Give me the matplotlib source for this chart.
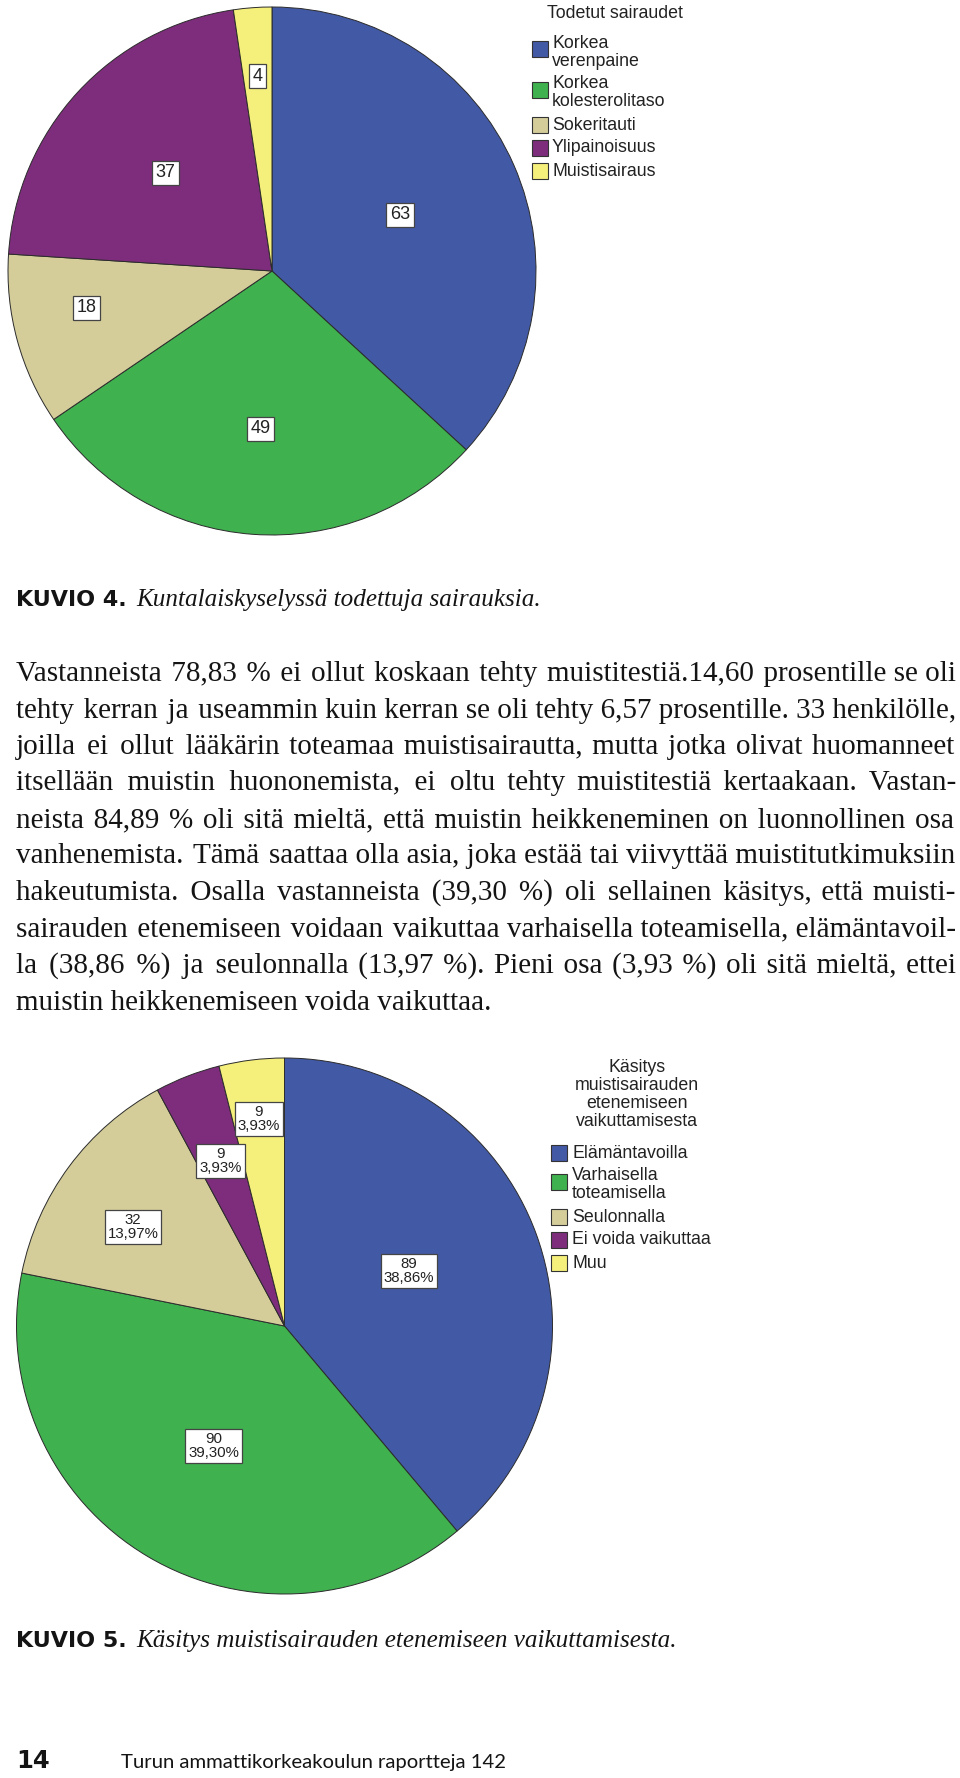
import matplotlib
matplotlib.use('Agg')
import matplotlib.pyplot as plt
from matplotlib.patches import Rectangle
import numpy as np

W, H = 960, 1778
DPI = 100

# ---------------- data ----------------
top_title = "Todetut sairaudet"
top_categories = ["Korkea\nverenpaine", "Korkea\nkolesterolitaso", "Sokeritauti",
                  "Ylipainoisuus", "Muistisairaus"]
top_values = [63, 49, 18, 37, 4]

bottom_title = "Käsitys\nmuistisairauden\netenemiseen\nvaikuttamisesta"
bottom_categories = ["Elämäntavoilla", "Varhaisella\ntoteamisella", "Seulonnalla",
                     "Ei voida vaikuttaa", "Muu"]
bottom_values = [89, 90, 32, 9, 9]

caption1_bold = "KUVIO 4."
caption1_italic = "Kuntalaiskyselyssä todettuja sairauksia."
caption2_bold = "KUVIO 5."
caption2_italic = "Käsitys muistisairauden etenemiseen vaikuttamisesta."
footer_num = "14"
footer_text = "Turun ammattikorkeakoulun raportteja 142"

body_lines = [
    "Vastanneista 78,83 % ei ollut koskaan tehty muistitestiä.14,60 prosentille se oli",
    "tehty kerran ja useammin kuin kerran se oli tehty 6,57 prosentille. 33 henkilölle,",
    "joilla ei ollut lääkärin toteamaa muistisairautta, mutta jotka olivat huomanneet",
    "itsellään muistin huononemista, ei oltu tehty muistitestiä kertaakaan. Vastan-",
    "neista 84,89 % oli sitä mieltä, että muistin heikkeneminen on luonnollinen osa",
    "vanhenemista. Tämä saattaa olla asia, joka estää tai viivyttää muistitutkimuksiin",
    "hakeutumista. Osalla vastanneista (39,30 %) oli sellainen käsitys, että muisti-",
    "sairauden etenemiseen voidaan vaikuttaa varhaisella toteamisella, elämäntavoil-",
    "la (38,86 %) ja seulonnalla (13,97 %). Pieni osa (3,93 %) oli sitä mieltä, ettei",
    "muistin heikkenemiseen voida vaikuttaa.",
]

# ---------------- style ----------------
colors = ['#4259A5', '#3FB14F', '#D4CD9A', '#7D2D7B', '#F5EF7B']
EDGE = '#2b2b2b'
SANS = 'Liberation Sans'
SERIF = 'Liberation Serif'
INK = '#141414'

# label placement: (radius fraction, angle offset in degrees from wedge middle)
top_label_place = [(0.53, 0), (0.6, 0), (0.716, -4), (0.55, 0), (0.74, 0)]
bottom_label_place = [(0.507, 3.7), (0.52, 0), (0.675, 3.4), (0.66, 0), (0.78, 0)]

fig = plt.figure(figsize=(W / DPI, H / DPI), dpi=DPI)
fig.patch.set_facecolor('white')
renderer = fig.canvas.get_renderer()


def fx(x):
    return x / W


def fy(y):
    return 1 - y / H


def measure(s, **kw):
    t = fig.text(0, 0, s, **kw)
    w = t.get_window_extent(renderer).width
    t.remove()
    return w


def draw_pie(cx, cy, r, values, labels, places, fsize, pad_box):
    pad = 1.02
    ax = fig.add_axes([fx(cx - r * pad), fy(cy + r * pad), 2 * r * pad / W, 2 * r * pad / H])
    wedges, _ = ax.pie(values, colors=colors, startangle=90, counterclock=False,
                       radius=1, wedgeprops=dict(edgecolor=EDGE, linewidth=0.7))
    ax.set_xlim(-pad, pad)
    ax.set_ylim(-pad, pad)
    ax.set_aspect('equal')
    ax.axis('off')
    for w, lab, (d, off) in zip(wedges, labels, places):
        th = np.deg2rad((w.theta1 + w.theta2) / 2 + off)
        ax.text(d * np.cos(th), d * np.sin(th), lab, ha='center', va='center',
                fontsize=fsize, family=SANS, color='#222222', linespacing=1.0,
                multialignment='center',
                bbox=dict(boxstyle=f'square,pad={pad_box}', fc='white', ec='#444444', lw=0.9))
    return ax


def draw_legend(title_lines_y, title_x, title, entries_y0, patch_x, text_x, cats, patch_size=16,
                line_h=18, pitch=23, fsize=12.8):
    for i, line in enumerate(title.split('\n')):
        fig.text(fx(title_x), fy(title_lines_y + i * line_h), line, ha='center', va='center',
                 fontsize=fsize, family=SANS, color='#222222')
    y = entries_y0
    for cat, col in zip(cats, colors):
        lines = cat.split('\n')
        for j, ln in enumerate(lines):
            fig.text(fx(text_x), fy(y + j * line_h), ln, ha='left', va='center',
                     fontsize=fsize, family=SANS, color='#222222')
        pc = y + (6 if len(lines) > 1 else 0)
        fig.add_artist(Rectangle((fx(patch_x), fy(pc + patch_size / 2)), patch_size / W,
                                 patch_size / H, transform=fig.transFigure, fc=col,
                                 ec='#333333', lw=0.8))
        y += pitch + line_h * (len(lines) - 1)


# ---------------- pies ----------------
top_labels = [str(v) for v in top_values]
draw_pie(272, 271, 264, top_values, top_labels, top_label_place, 13, 0.2)

tot = sum(bottom_values)
bottom_labels = [f"{v}\n{100 * v / tot:.2f}%".replace('.', ',') for v in bottom_values]
draw_pie(284.5, 1326, 268, bottom_values, bottom_labels, bottom_label_place, 10.8, 0.2)

# ---------------- legends ----------------
draw_legend(13, 615, top_title, 43, 532, 552, top_categories)
draw_legend(1067, 637, bottom_title, 1153, 551, 572, bottom_categories)


# ---------------- captions ----------------
def fit_size(s, family, target, base=14, **kw):
    return base * target / measure(s, fontsize=base, family=family, **kw)


def caption(y, bold, italic, bsize, isize):
    fig.text(fx(16), fy(y), bold, ha='left', va='baseline', fontsize=bsize,
             family='DejaVu Sans', weight='bold', color=INK)
    fig.text(fx(136), fy(y), italic, ha='left', va='baseline', fontsize=isize,
             family=SERIF, style='italic', color=INK)


bsize = fit_size(caption1_bold, 'DejaVu Sans', 111, weight='bold')
is1 = fit_size(caption1_italic, SERIF, 399, style='italic')
is2 = fit_size(caption2_italic, SERIF, 547, style='italic')
isize = (is1 + is2) / 2
caption(606, caption1_bold, caption1_italic, bsize, isize)
caption(1647, caption2_bold, caption2_italic, bsize, isize)

# ---------------- body text (justified, one text object per line) ----------------
LEFT, RIGHT = 16, 955
base = 16
widths = [measure(ln, fontsize=base, family=SERIF) for ln in body_lines]
body_size = base * 935 / max(widths)
bkw = dict(fontsize=body_size, family=SERIF)

HAIR = '\u200a'
hair_w = (measure('a' + HAIR * 20 + 'a', **bkw) - measure('aa', **bkw)) / 20
if not (0.3 < hair_w < 6):
    HAIR = ' '
    hair_w = (measure('a' + ' ' * 20 + 'a', **bkw) - measure('aa', **bkw)) / 20

y0, pitch = 681, 36.5
for i, ln in enumerate(body_lines):
    y = y0 + i * pitch
    s = ln
    if i < len(body_lines) - 1:
        words = ln.split(' ')
        n = len(words) - 1
        extra = (RIGHT - LEFT) - measure(ln, **bkw)
        N = max(0, int(round(extra / hair_w)))
        parts = [words[0]]
        for g in range(n):
            k = N // n + (1 if g < N % n else 0)
            parts.append(' ' + HAIR * k + words[g + 1])
        s = ''.join(parts)
    fig.text(fx(LEFT), fy(y), s, ha='left', va='baseline', color=INK, **bkw)

# ---------------- footer ----------------
fsz = fit_size(footer_text, 'Lato', 387)
fig.text(fx(16), fy(1768), footer_num, ha='left', va='baseline', fontsize=fsz * 1.2,
         family='DejaVu Sans', weight='bold', color=INK)
fig.text(fx(121), fy(1768), footer_text, ha='left', va='baseline', fontsize=fsz,
         family='Lato', color=INK)

fig.savefig('out.png', dpi=DPI, facecolor='white')
